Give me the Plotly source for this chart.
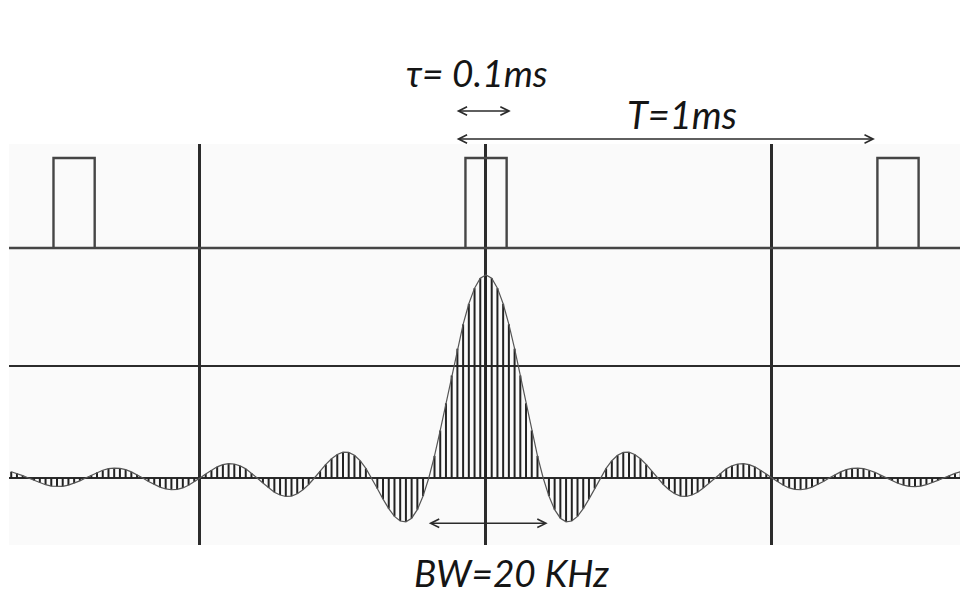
import plotly.graph_objects as go

# Harmonic frequencies of the pulse train (kHz) and their spectral line amplitudes
harmonic_khz = list(range(-83, 84))
line_amp = [
    0.031, 0.023, 0.012,
    0.000, -0.012, -0.024, -0.033, -0.040, -0.042, -0.041, -0.035, -0.026, -0.014,
    0.000, 0.014, 0.028, 0.038, 0.046, 0.049, 0.047, 0.041, 0.030, 0.016,
    0.000, -0.017, -0.032, -0.045, -0.054, -0.058, -0.056, -0.049, -0.036, -0.019,
    0.000, 0.020, 0.039, 0.055, 0.066, 0.071, 0.069, 0.060, 0.045, 0.024,
    0.000, -0.025, -0.049, -0.070, -0.084, -0.091, -0.089, -0.078, -0.058, -0.032,
    0.000, 0.034, 0.067, 0.095, 0.116, 0.127, 0.126, 0.112, 0.085, 0.047,
    0.000, -0.052, -0.104, -0.151, -0.189, -0.212, -0.216, -0.198, -0.156, -0.089,
    0.000, 0.109, 0.234, 0.368, 0.505, 0.637, 0.757, 0.858, 0.935, 0.984,
    1.000, 0.984, 0.935, 0.858, 0.757, 0.637, 0.505, 0.368, 0.234, 0.109,
    0.000, -0.089, -0.156, -0.198, -0.216, -0.212, -0.189, -0.151, -0.104, -0.052,
    0.000, 0.047, 0.085, 0.112, 0.126, 0.127, 0.116, 0.095, 0.067, 0.034,
    0.000, -0.032, -0.058, -0.078, -0.089, -0.091, -0.084, -0.070, -0.049, -0.025,
    0.000, 0.024, 0.045, 0.060, 0.069, 0.071, 0.066, 0.055, 0.039, 0.020,
    0.000, -0.019, -0.036, -0.049, -0.056, -0.058, -0.054, -0.045, -0.032, -0.017,
    0.000, 0.016, 0.030, 0.041, 0.047, 0.049, 0.046, 0.038, 0.028, 0.014,
    0.000, -0.014, -0.026, -0.035, -0.041, -0.042, -0.040, -0.033, -0.024, -0.012,
    0.000, 0.012, 0.023, 0.031,
]
assert len(line_amp) == len(harmonic_khz)

# Rectangular pulse train (time in ms)
pulse_centers_ms = [-1.0, 0.0, 1.0]
pulse_width_ms = 0.1
pulse_height = 1.0

# Axis windows
freq_range = [-83.39, 82.87]
time_range = [-1.158, 1.1505]
spec_range = [-0.330, 1.645]
pulse_range = [-3.3, 1.156]

# Labels and arrow spans
tau_label = "τ= 0.1ms"
period_label = "T=1ms"
bw_label = "BW=20 KHz"
tau_span_ms = [-0.075, 0.060]
period_span_ms = [-0.075, 0.944]
bw_span_khz = [-10.26, 10.79]

INK = "#2b2b2b"

# Build the pulse outline
px, py = [time_range[0]], [0.0]
for c in pulse_centers_ms:
    a, b = c - pulse_width_ms / 2, c + pulse_width_ms / 2
    px += [a, a, b, b, a, b]
    py += [0.0, pulse_height, pulse_height, 0.0, 0.0, 0.0]
px.append(time_range[1])
py.append(0.0)

# Spectral lines as vertical segments from the baseline
sx, sy = [], []
for f, a in zip(harmonic_khz, line_amp):
    sx += [f, f, None]
    sy += [0.0, a, None]

fig = go.Figure()
fig.add_trace(go.Scatter(x=sx, y=sy, mode="lines",
                         line=dict(color="#222222", width=2),
                         hoverinfo="skip", showlegend=False))
fig.add_trace(go.Scatter(x=harmonic_khz, y=line_amp, mode="lines",
                         line=dict(color="#555555", width=1.2),
                         hoverinfo="skip", showlegend=False))
fig.add_trace(go.Scatter(x=px, y=py, mode="lines", xaxis="x2", yaxis="y2",
                         line=dict(color="#454545", width=2.4),
                         hoverinfo="skip", showlegend=False))

fig.update_layout(
    width=960, height=598,
    margin=dict(l=9, r=0, t=144, b=53, pad=0),
    paper_bgcolor="white",
    plot_bgcolor="#fafafa",
    showlegend=False,
    xaxis=dict(range=freq_range, tickvals=[-50, 0, 50], showgrid=True,
               gridcolor=INK, gridwidth=2.6, showticklabels=False,
               zeroline=False, showline=False, ticks=""),
    xaxis2=dict(range=time_range, overlaying="x", visible=False),
    yaxis=dict(range=spec_range, tickvals=[0, 0.552], showgrid=True,
               gridcolor=INK, gridwidth=2.4, showticklabels=False,
               zeroline=False, showline=False, ticks=""),
    yaxis2=dict(range=pulse_range, overlaying="y", visible=False),
)

font = dict(family="Lato, 'Open Sans', sans-serif", color="#151515")


def label(text, x, y, size):
    fig.add_annotation(text=f"<i>{text}</i>", x=x, y=y, xref="paper", yref="paper",
                       showarrow=False, xanchor="center", yanchor="middle",
                       font=dict(size=size, **font))


def double_arrow(x0, x1, y, xref, yref):
    fig.add_annotation(x=x1, y=y, ax=x0, ay=0, xref=xref, yref=yref,
                       axref=xref, ayref="pixel", text="", showarrow=True,
                       arrowhead=5, startarrowhead=5, arrowside="end+start",
                       arrowsize=1.2, startarrowsize=1.2, arrowwidth=1.4,
                       arrowcolor=INK)


label(tau_label, 0.4926, 1.1778, 37)
label(period_label, 0.7077, 1.0741, 38)
label(bw_label, 0.5289, -0.0691, 37)

double_arrow(tau_span_ms[0], tau_span_ms[1], 1.0823, "x2", "paper")
double_arrow(period_span_ms[0], period_span_ms[1], 1.0125, "x2", "paper")
double_arrow(bw_span_khz[0], bw_span_khz[1], -0.2232, "x", "y")

fig.write_html("out.html")
